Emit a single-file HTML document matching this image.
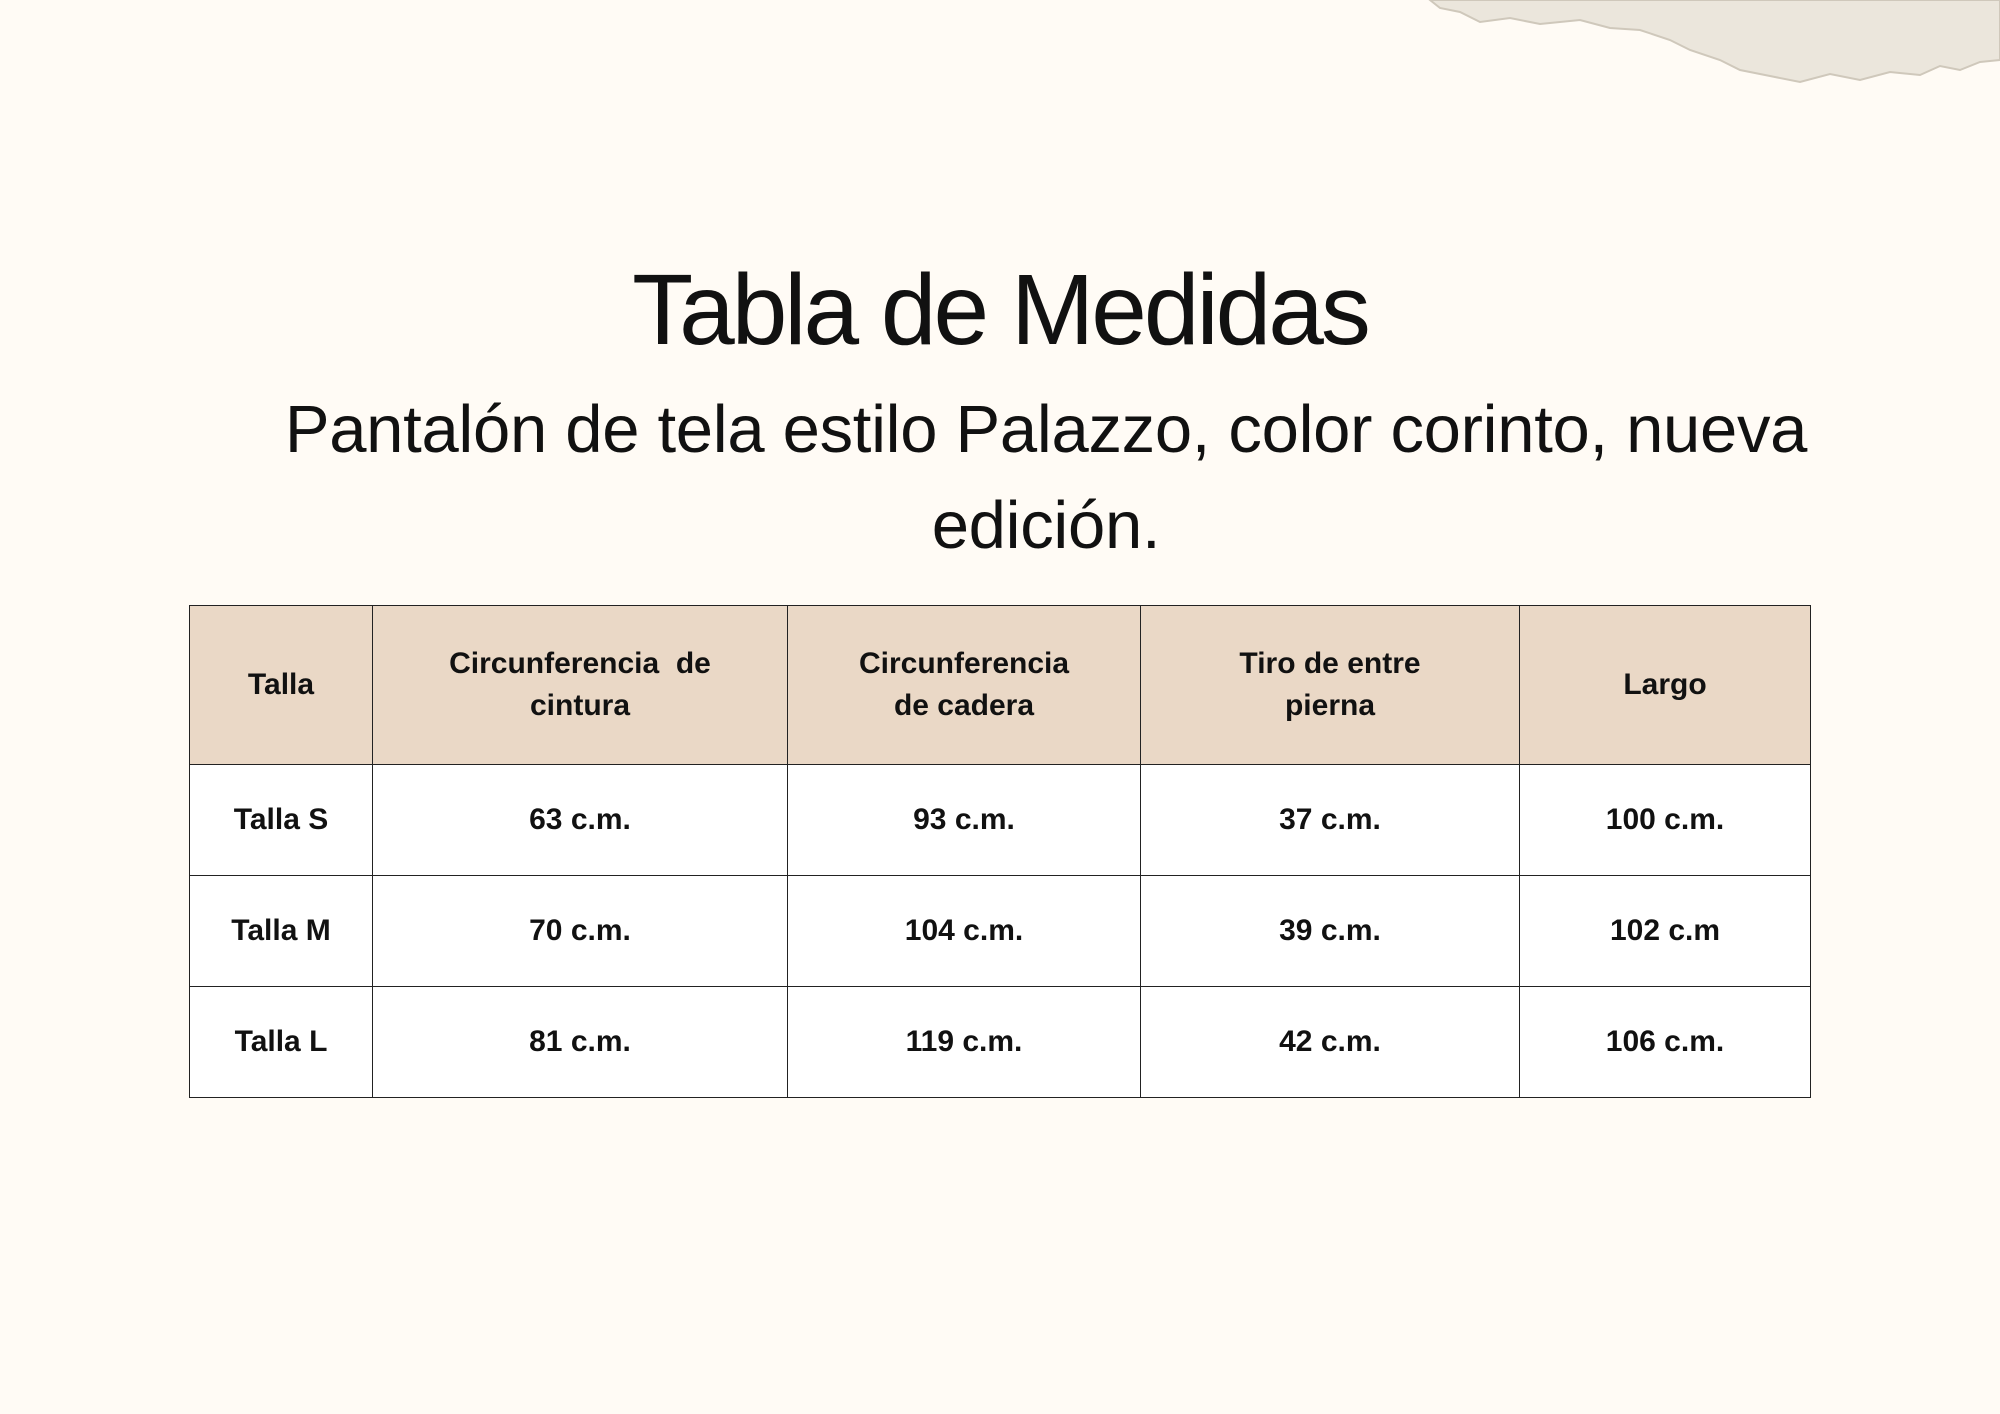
<!DOCTYPE html>
<html><head><meta charset="utf-8"><style>
html,body{margin:0;padding:0;}
body{width:2000px;height:1414px;background:#fffbf5;position:relative;overflow:hidden;font-family:"Liberation Sans",sans-serif;color:#111;}
.t1{position:absolute;left:0;width:2000px;top:250px;text-align:center;font-size:100px;font-weight:300;letter-spacing:-3px;line-height:120px;}
.t2{position:absolute;left:200px;width:1692px;top:382px;text-align:center;font-size:67px;letter-spacing:-0.3px;line-height:96px;}
table{position:absolute;left:189px;top:605px;border-collapse:collapse;}
td{border:1.5px solid #222;text-align:center;font-weight:bold;font-size:30px;padding:0;background:#fff;}
tr.h td{background:#ead8c6;height:158px;line-height:42px;}
tr.r td{height:110px;}
</style></head><body>
<svg style="position:absolute;left:1420px;top:0" width="580" height="90">
<path d="M10 0 L570 0 L580 0 L580 60 L560 62 L540 70 L520 66 L500 75 L470 72 L440 80 L410 74 L380 82 L350 76 L320 70 L300 60 L270 50 L250 40 L220 30 L190 28 L160 20 L120 24 L90 18 L60 22 L40 12 L20 8 Z" fill="#ebe6dc" stroke="#cfc8bb" stroke-width="2"/>
</svg>
<div class="t1">Tabla de Medidas</div>
<div class="t2">Pantalón de tela estilo Palazzo, color corinto, nueva<br>edición.</div>
<table>
<tr class="h"><td style="width:182px">Talla</td><td style="width:414px">Circunferencia&nbsp; de<br>cintura</td><td style="width:352px">Circunferencia<br>de cadera</td><td style="width:378px">Tiro de entre<br>pierna</td><td style="width:290px">Largo</td></tr>
<tr class="r"><td>Talla S</td><td>63 c.m.</td><td>93 c.m.</td><td>37 c.m.</td><td>100 c.m.</td></tr>
<tr class="r"><td>Talla M</td><td>70 c.m.</td><td>104 c.m.</td><td>39 c.m.</td><td>102 c.m</td></tr>
<tr class="r"><td>Talla L</td><td>81 c.m.</td><td>119 c.m.</td><td>42 c.m.</td><td>106 c.m.</td></tr>
</table>
</body></html>
